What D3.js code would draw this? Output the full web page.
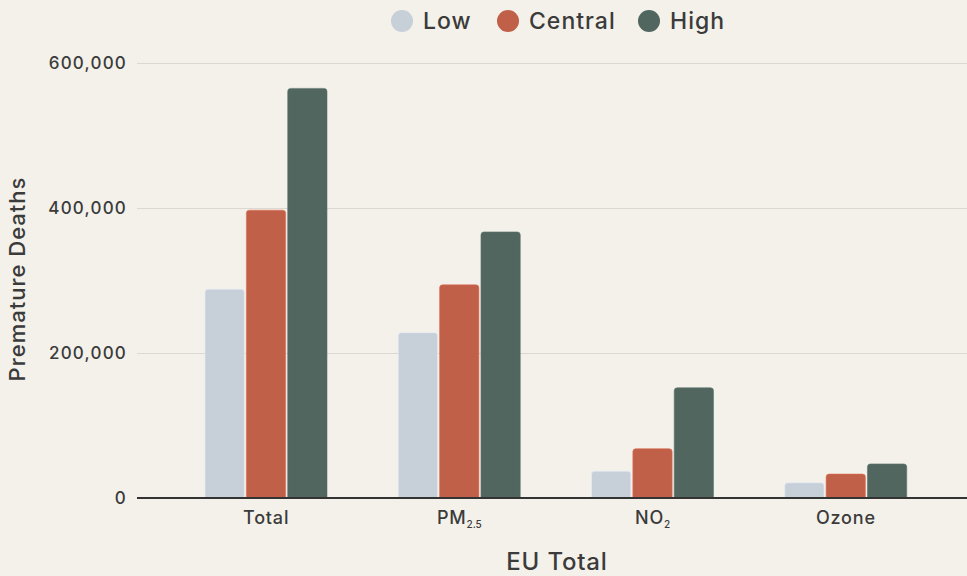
<!DOCTYPE html>
<html>
<head>
<meta charset="utf-8">
<script src="https://cdn.jsdelivr.net/npm/d3@7"></script>
<style>
  html, body { margin: 0; padding: 0; background: #f4f1ea; }
  svg { display: block; }
  text { font-family: Inter, "Noto Sans", sans-serif; font-weight: 500; fill: #3b3b3b; }
</style>
</head>
<body>
<svg id="chart" width="967" height="576"></svg>
<script>
// Pollutant categories; subscripts are listed separately so they can be drawn as tspans
const categories = ["Total", "PM2.5", "NO2", "Ozone"];
const categoryMain = ["Total", "PM", "NO", "Ozone"];
const categorySub = ["", "2.5", "2", ""];

// Scenario series
const series = ["Low", "Central", "High"];
const seriesColors = ["#c7cfd9", "#c06048", "#50665f"];

// Premature deaths per scenario
const lowValues = [288000, 228000, 37000, 21000];
const centralValues = [397000, 294000, 68000, 33000];
const highValues = [565000, 367000, 152000, 47000];

const yTicks = [0, 200000, 400000, 600000];

const svg = d3.select("#chart");
svg.append("rect").attr("width", 967).attr("height", 576).attr("fill", "#f4f1ea");

const plot = { left: 137, right: 967, top: 63, bottom: 498 };

const y = d3.scaleLinear().domain([0, 600000]).range([plot.bottom, plot.top]);
const x0 = d3.scaleBand().domain(categories).range([169.5, 942.5]).padding(0);
const x1 = d3.scaleBand().domain(series).range([35.5, 157.5]).paddingInner(0.05);

const valuesBySeries = { Low: lowValues, Central: centralValues, High: highValues };
const colorBySeries = d3.scaleOrdinal().domain(series).range(seriesColors);

// Horizontal gridlines with labels
const yAxis = d3.axisLeft(y)
  .tickValues(yTicks)
  .tickFormat(d3.format(","))
  .tickSize(-(plot.right - plot.left))
  .tickPadding(10);

const gy = svg.append("g")
  .attr("transform", `translate(${plot.left},0)`)
  .call(yAxis);
gy.select(".domain").remove();
gy.selectAll(".tick line").attr("stroke", "#dbd8d2").attr("stroke-width", 1);
gy.selectAll(".tick text")
  .attr("font-size", 17)
  .attr("fill", "#3b3b3b")
  .style("font-family", 'Inter, "Noto Sans", sans-serif')
  .style("font-weight", 500)
  .style("letter-spacing", "1.2px");

// Bars with slightly rounded tops
function topRounded(xp, yp, w, h, r) {
  r = Math.min(r, h, w / 2);
  return `M${xp},${yp + h}V${yp + r}Q${xp},${yp} ${xp + r},${yp}H${xp + w - r}Q${xp + w},${yp} ${xp + w},${yp + r}V${yp + h}Z`;
}

const rows = categories.map((c, i) => ({
  category: c,
  items: series.map(s => ({ series: s, value: valuesBySeries[s][i] }))
}));

const groups = svg.append("g").selectAll("g")
  .data(rows)
  .join("g")
  .attr("transform", d => `translate(${x0(d.category)},0)`);

groups.selectAll("path")
  .data(d => d.items)
  .join("path")
  .attr("d", d => topRounded(x1(d.series), y(d.value), x1.bandwidth(), y(0) - y(d.value), 3))
  .attr("fill", d => colorBySeries(d.series))
  .attr("stroke", d => d3.color(colorBySeries(d.series)).brighter(0.4))
  .attr("stroke-width", 0.6);

// Zero baseline
svg.append("line")
  .attr("x1", plot.left).attr("x2", plot.right)
  .attr("y1", y(0)).attr("y2", y(0))
  .attr("stroke", "#333333").attr("stroke-width", 2);

// Category labels with chemical subscripts
const xl = svg.append("g").selectAll("text")
  .data(categories)
  .join("text")
  .attr("x", d => x0(d) + x0.bandwidth() / 2)
  .attr("y", 524)
  .attr("text-anchor", "middle")
  .attr("font-size", 18)
  .style("letter-spacing", "0.8px");
xl.append("tspan").text((d, i) => categoryMain[i]);
xl.append("tspan")
  .attr("font-size", 10)
  .attr("dy", 4)
  .style("letter-spacing", "0px")
  .text((d, i) => categorySub[i]);

// Axis titles
svg.append("text")
  .attr("x", 557).attr("y", 570)
  .attr("text-anchor", "middle")
  .attr("font-size", 24)
  .style("letter-spacing", "0.8px")
  .text("EU Total");

svg.append("text")
  .attr("transform", "translate(25,279) rotate(-90)")
  .attr("text-anchor", "middle")
  .attr("font-size", 22)
  .style("letter-spacing", "1px")
  .text("Premature Deaths");

// Legend
const legendX = [402, 508, 649];
const legend = svg.append("g").selectAll("g")
  .data(series)
  .join("g")
  .attr("transform", (d, i) => `translate(${legendX[i]},21)`);
legend.append("circle").attr("r", 11).attr("fill", d => colorBySeries(d));
legend.append("text")
  .attr("x", 21).attr("y", 8)
  .attr("font-size", 23)
  .style("letter-spacing", "1px")
  .text(d => d);
</script>
</body>
</html>
